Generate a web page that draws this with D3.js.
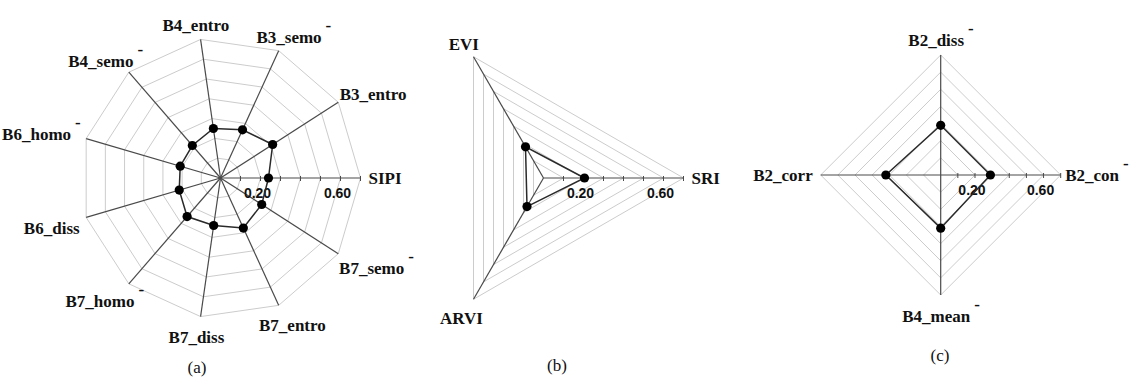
<!DOCTYPE html>
<html>
<head>
<meta charset="utf-8">
<script src="https://cdn.jsdelivr.net/npm/d3@7"></script>
<style>
  html, body { margin: 0; padding: 0; background: #fff; }
  svg { display: block; }
</style>
</head>
<body>
<div id="chart"></div>
<script>
// ---- data ----
const ringValues = [0.1, 0.2, 0.3, 0.4, 0.5, 0.6, 0.7];
const tickLabels = [0.2, 0.6];

const labelsA = ['SIPI', 'B3_entro', 'B3_semo', 'B4_entro', 'B4_semo', 'B6_homo',
                 'B6_diss', 'B7_homo', 'B7_diss', 'B7_entro', 'B7_semo'];
const valuesA = [0.24, 0.31, 0.265, 0.25, 0.215, 0.21, 0.215, 0.255, 0.24, 0.275, 0.245];
const minusA  = [false, false, true, false, true, true, false, true, false, false, true];

const labelsB = ['SRI', 'EVI', 'ARVI'];
const valuesB = [0.205, 0.18, 0.165];
const minusB  = [false, false, false];

const labelsC = ['B2_con', 'B2_diss', 'B2_corr', 'B4_mean'];
const valuesC = [0.29, 0.29, 0.32, 0.31];
const minusC  = [true, true, false, true];

const captions = ['(a)', '(b)', '(c)'];

const width = 1130, height = 377;
const svg = d3.select('#chart').append('svg')
  .attr('width', width).attr('height', height);

const serif = '"Liberation Serif", "Times New Roman", serif';

function drawRadar(cfg) {
  const { cx, cy, R, labels, values, minus } = cfg;
  const n = labels.length;
  const r = d3.scaleLinear().domain([0, 0.7]).range([0, R]);
  const ang = i => i * 2 * Math.PI / n;
  const px = (i, v) => cx + r(v) * Math.cos(ang(i));
  const py = (i, v) => cy - r(v) * Math.sin(ang(i));
  const g = svg.append('g');

  // grid rings
  const ring = d3.line().curve(d3.curveLinearClosed);
  ringValues.forEach(v => {
    g.append('path')
      .attr('d', ring(d3.range(n).map(i => [px(i, v), py(i, v)])))
      .attr('fill', 'none')
      .attr('stroke', '#cccccc')
      .attr('stroke-width', 1);
  });

  // axes
  d3.range(n).forEach(i => {
    g.append('line')
      .attr('x1', cx).attr('y1', cy)
      .attr('x2', px(i, 0.7)).attr('y2', py(i, 0.7))
      .attr('stroke', '#4a4a4a')
      .attr('stroke-width', 1.2);
  });

  // ticks on the first axis
  ringValues.forEach(v => {
    g.append('line')
      .attr('x1', cx + r(v)).attr('x2', cx + r(v))
      .attr('y1', cy - 2).attr('y2', cy + 3)
      .attr('stroke', '#4a4a4a').attr('stroke-width', 1);
  });
  tickLabels.forEach(v => {
    g.append('text')
      .attr('x', cx + r(v) - 3).attr('y', cy + 15)
      .attr('dy', '0.35em')
      .attr('text-anchor', 'middle')
      .attr('font-family', '"Liberation Sans", Arial, sans-serif')
      .attr('font-weight', 'bold')
      .attr('font-size', 14)
      .attr('fill', '#111')
      .text(d3.format('.2f')(v));
  });

  // data polygon + points
  g.append('path')
    .attr('d', ring(values.map((v, i) => [px(i, v), py(i, v)])))
    .attr('fill', 'none')
    .attr('stroke', '#2a2a2a')
    .attr('stroke-width', 1.5);
  g.selectAll('circle.pt').data(values).join('circle')
    .attr('class', 'pt')
    .attr('cx', (v, i) => px(i, v))
    .attr('cy', (v, i) => py(i, v))
    .attr('r', 4.6)
    .attr('fill', '#000');

  // axis labels
  labels.forEach((lab, i) => {
    const ux = Math.cos(ang(i)), uy = Math.sin(ang(i));
    const t = g.append('text')
      .attr('text-anchor', 'middle')
      .attr('dy', '0.35em')
      .attr('font-family', serif)
      .attr('font-weight', 'bold')
      .attr('font-size', 17)
      .attr('fill', '#111')
      .text(lab);
    const w = t.node().getComputedTextLength();
    const wTot = w + (minus[i] ? 9 : 0);
    const h = 14, pad = 8;
    const kx = Math.abs(ux) > 0.8 ? 1 : 0.75;
    let gx = px(i, 0.7) + ux * pad + kx * ux * wTot / 2;
    let gy = py(i, 0.7) - uy * pad - uy * h / 2;
    if (uy < -0.1) gy += 6;
    // keep the label inside the picture
    gx = Math.min(gx, width - 2 - wTot / 2);
    const tx = gx - (minus[i] ? 4.5 : 0);
    t.attr('x', tx).attr('y', gy);
    if (minus[i]) {
      g.append('text')
        .attr('x', tx + w / 2 + 4)
        .attr('y', gy - 6)
        .attr('font-family', serif)
        .attr('font-weight', 'bold')
        .attr('font-size', 17)
        .attr('fill', '#111')
        .text('-');
    }
  });
}

drawRadar({ cx: 220.5, cy: 178, R: 140, labels: labelsA, values: valuesA, minus: minusA });
drawRadar({ cx: 543.5, cy: 178, R: 140, labels: labelsB, values: valuesB, minus: minusB });
drawRadar({ cx: 940.7, cy: 175, R: 120, labels: labelsC, values: valuesC, minus: minusC });

const capPos = [[197, 367], [557, 365], [940, 355]];
captions.forEach((c, i) => {
  svg.append('text')
    .attr('x', capPos[i][0]).attr('y', capPos[i][1])
    .attr('dy', '0.35em')
    .attr('text-anchor', 'middle')
    .attr('font-family', serif)
    .attr('font-size', 17)
    .attr('fill', '#111')
    .text(c);
});
</script>
</body>
</html>
